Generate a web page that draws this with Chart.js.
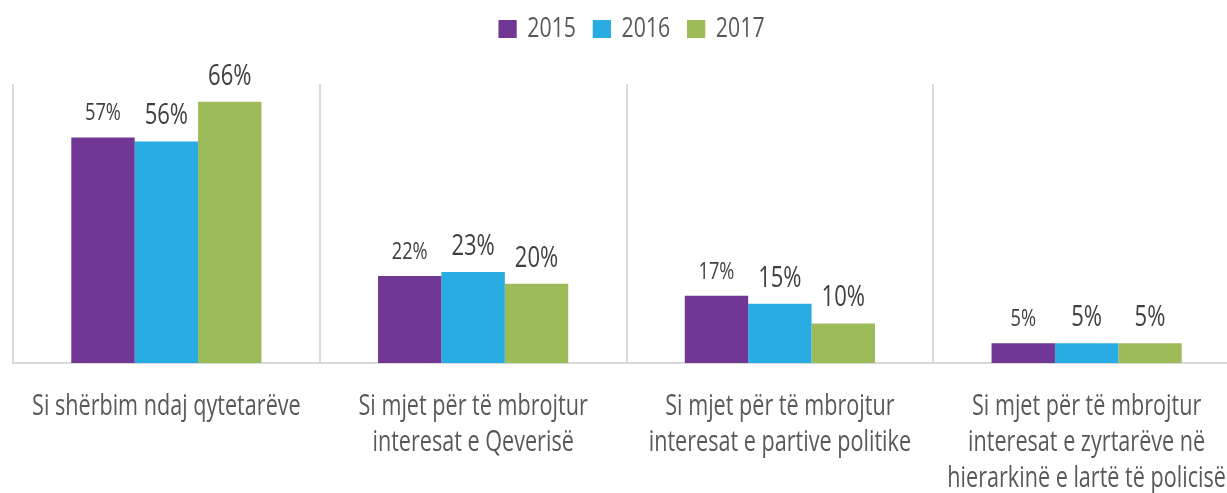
<!DOCTYPE html>
<html>
<head>
<meta charset="utf-8">
<script src="https://cdn.jsdelivr.net/npm/chart.js@4"></script>
<style>
html,body{margin:0;padding:0;background:#fff;overflow:hidden;width:1227px;height:493px;}
#wrap{width:1242px;height:493px;position:relative;}
</style>
</head>
<body>
<div id="wrap"><canvas id="c" width="1242" height="493"></canvas></div>
<script>
const categories = [
  ["Si shërbim ndaj qytetarëve"],
  ["Si mjet për të mbrojtur", "interesat e Qeverisë"],
  ["Si mjet për të mbrojtur", "interesat e partive politike"],
  ["Si mjet për të mbrojtur", "interesat e zyrtarëve në", "hierarkinë e lartë të policisë"]
];
const seriesNames = ["2015", "2016", "2017"];
const values2015 = [57, 22, 17, 5];
const values2016 = [56, 23, 15, 5];
const values2017 = [66, 20, 10, 5];
const colors = ["#703894", "#28ace2", "#9dbb58"];

const FONT = "'Open Sans', 'Noto Sans', sans-serif";
const SX = 0.76; // horizontal condensing factor to mimic a condensed face

function drawCondensed(ctx, text, x, y, size, color, sx) {
  ctx.save();
  ctx.translate(x, y);
  ctx.scale(sx, 1);
  ctx.font = size + 'px ' + FONT;
  ctx.fillStyle = color;
  ctx.textAlign = 'center';
  ctx.textBaseline = 'alphabetic';
  ctx.fillText(text, 0, 0);
  ctx.restore();
}

const legendPatch = {
  id: 'legendPatch',
  beforeLayout(chart) {
    const lg = chart.legend;
    if (lg && !lg._patched) {
      const fit = lg.fit;
      lg.fit = function () { fit.call(this); this.height = 84; };
      const draw = lg.draw;
      lg.draw = function () {
        const ctx = this.ctx;
        const cx = (this.left + this.right) / 2;
        ctx.save();
        ctx.translate(cx + 5, -7);
        ctx.scale(SX, 1);
        ctx.translate(-cx, 0);
        draw.call(this);
        ctx.restore();
      };
      lg._patched = true;
    }
  }
};

const textLayer = {
  id: 'textLayer',
  afterDatasetsDraw(chart) {
    const ctx = chart.ctx;
    chart.data.datasets.forEach((ds, i) => {
      const meta = chart.getDatasetMeta(i);
      meta.data.forEach((bar, j) => {
        drawCondensed(ctx, ds.data[j] + '%', bar.x, bar.y - 17, i === 0 ? 24 : 29, '#404040', SX);
      });
    });
  },
  afterDraw(chart) {
    const ctx = chart.ctx;
    const xs = chart.scales.x;
    chart.data.labels.forEach((lines, i) => {
      const x = xs.getPixelForTick(i);
      lines.forEach((line, k) => {
        drawCondensed(ctx, line, x, xs.top + 52 + k * 36, 30, '#595959', 0.72);
      });
    });
  }
};

new Chart(document.getElementById('c'), {
  type: 'bar',
  data: {
    labels: categories,
    datasets: [
      { label: seriesNames[0], data: values2015, backgroundColor: colors[0] },
      { label: seriesNames[1], data: values2016, backgroundColor: colors[1] },
      { label: seriesNames[2], data: values2017, backgroundColor: colors[2] }
    ]
  },
  options: {
    responsive: false,
    animation: false,
    layout: { padding: { left: 13, right: 2, top: 0, bottom: 0 } },
    datasets: { bar: { categoryPercentage: 0.62, barPercentage: 1.0 } },
    plugins: {
      legend: {
        position: 'top',
        labels: {
          font: { family: FONT, size: 28 },
          color: '#595959',
          boxWidth: 24,
          boxHeight: 18,
          padding: 22
        }
      },
      tooltip: { enabled: false }
    },
    scales: {
      x: {
        grid: { offset: true, color: '#d9d9d9', lineWidth: 2, drawTicks: false },
        border: { display: true, color: '#d9d9d9', width: 2 },
        ticks: { display: false },
        afterFit(scale) { scale.height = 130; scale.paddingLeft = 0; scale.paddingRight = 0; }
      },
      y: {
        display: false,
        min: 0,
        max: 70.5
      }
    }
  },
  plugins: [legendPatch, textLayer]
});
</script>
</body>
</html>
